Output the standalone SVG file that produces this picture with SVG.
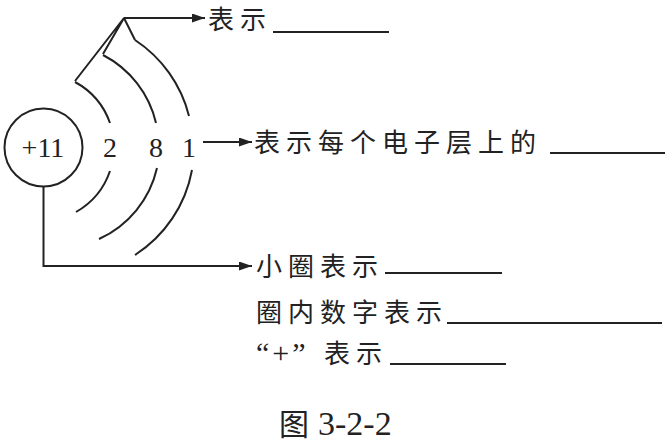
<svg xmlns="http://www.w3.org/2000/svg" width="666" height="445" viewBox="0 0 666 445">
<style>
.ln{fill:none;stroke:#222;stroke-width:2}
.cn{font-family:"Noto Sans CJK SC","Noto Sans CJK JP",sans-serif;font-size:26px;letter-spacing:6px;fill:#222}
.num{font-family:"Liberation Serif",serif;font-size:28px;fill:#222}
.ul{stroke:#222;stroke-width:2}
</style>
<defs>
<marker id="ah" markerUnits="userSpaceOnUse" markerWidth="14" markerHeight="10" refX="13" refY="4.5" orient="auto">
<path d="M0,0 L13,4.5 L0,9 z" fill="#222"/>
</marker>
</defs>
<rect width="666" height="445" fill="#fff"/>
<g id="nucleus">
<circle class="ln" cx="43.5" cy="147.5" r="39"/>
<text class="num" x="43" y="157" text-anchor="middle" font-size="29">+11</text>
</g>
<g id="shells">
<path class="ln" d="M75,82 A75,75 0 0 1 110,123"/>
<path class="ln" d="M110,171 A75,75 0 0 1 76,212"/>
<path class="ln" d="M103,55 A103,103 0 0 1 156,123"/>
<path class="ln" d="M157,168 A103,103 0 0 1 99,239"/>
<path class="ln" d="M135,40 A128.6,128.6 0 0 1 189,116"/>
<path class="ln" d="M192,170 A128.6,128.6 0 0 1 135,255"/>
<text class="num" x="110" y="157" text-anchor="middle">2</text>
<text class="num" x="156" y="157" text-anchor="middle">8</text>
<text class="num" x="189" y="157" text-anchor="middle">1</text>
</g>
<g id="connectors">
<path class="ln" d="M75,81 L124,18 L103,54 M124,18 L135,40"/>
<path class="ln" d="M124,18 L205,18" marker-end="url(#ah)"/>
<path class="ln" d="M203,142 L252,142" marker-end="url(#ah)"/>
<path class="ln" d="M43.5,186.5 L43.5,266 L252,266" marker-end="url(#ah)"/>
</g>
<g id="label-top">
<text class="cn" x="208" y="29">表示</text>
<line class="ul" x1="273" y1="32" x2="389" y2="32"/>
</g>
<g id="label-mid">
<text class="cn" x="254" y="152">表示每个电子层上的</text>
<line class="ul" x1="550" y1="153" x2="665" y2="153"/>
</g>
<g id="label-circle">
<text class="cn" x="256" y="276">小圈表示</text>
<line class="ul" x1="385" y1="273" x2="502" y2="273"/>
</g>
<g id="label-number">
<text class="cn" x="256" y="322">圈内数字表示</text>
<line class="ul" x1="447" y1="323" x2="662" y2="323"/>
</g>
<g id="label-plus">
<text x="256" y="363" font-family="'Liberation Serif',serif" font-size="30" letter-spacing="3" fill="#222">“+”</text>
<text class="cn" x="324" y="363">表示</text>
<line class="ul" x1="390" y1="364" x2="506" y2="364"/>
</g>
<g id="caption">
<text x="279" y="435" font-family="'Noto Sans CJK SC',sans-serif" font-size="30" fill="#222">图</text>
<text x="318" y="435" font-family="'Liberation Serif',serif" font-size="34" fill="#222">3-2-2</text>
</g>
</svg>
